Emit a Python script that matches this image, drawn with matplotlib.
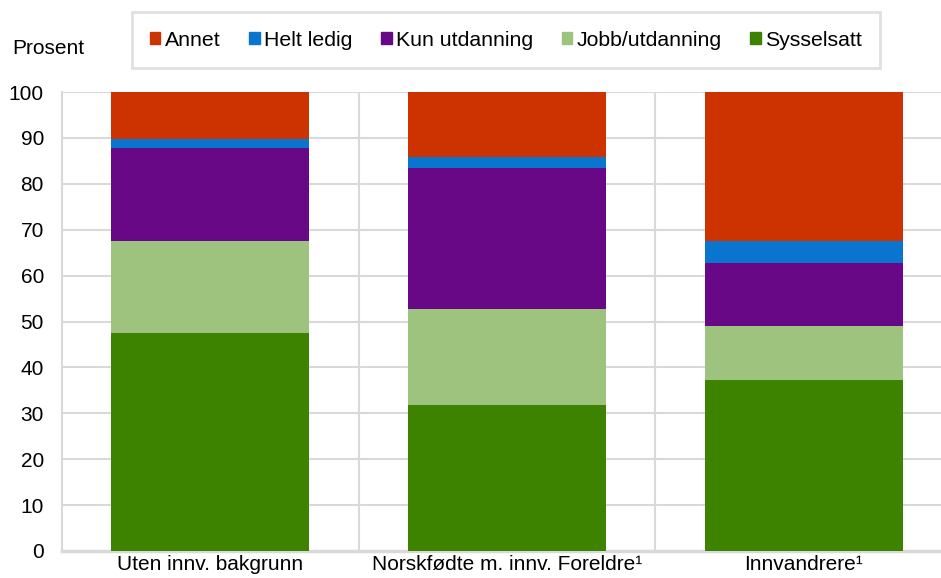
import matplotlib.pyplot as plt
import numpy as np
from matplotlib.patches import Patch

plt.rcParams['font.family'] = ['Liberation Sans', 'DejaVu Sans']

# data (percent)
categories = ["Uten innv. bakgrunn", "Norskfødte m. innv. Foreldre¹", "Innvandrere¹"]
sysselsatt = [47.5, 31.8, 37.3]
jobb_utd = [20.0, 20.9, 11.7]
kun_utd = [20.3, 30.8, 13.8]
helt_ledig = [1.9, 2.4, 4.7]
annet = [10.3, 14.1, 32.5]

series = [
    ("Sysselsatt", sysselsatt, "#3d8300"),
    ("Jobb/utdanning", jobb_utd, "#9dc37f"),
    ("Kun utdanning", kun_utd, "#690887"),
    ("Helt ledig", helt_ledig, "#0a75cf"),
    ("Annet", annet, "#cc3300"),
]

fig = plt.figure(figsize=(9.41, 5.78), dpi=100)
ax = fig.add_axes([62 / 941, 27 / 578, 890 / 941, 459 / 578])

x = np.arange(len(categories))
bottom = np.zeros(len(categories))
for name, vals, col in series:
    ax.bar(x, vals, 0.667, bottom=bottom, color=col, zorder=3)
    bottom += np.array(vals)

ax.set_xlim(-0.5, 2.5)
ax.set_ylim(0, 100)
ax.set_yticks(range(0, 101, 10))
ax.set_xticks(x)
ax.set_xticklabels(categories)
ax.set_xticks([0.5, 1.5], minor=True)
ax.tick_params(axis='both', which='both', length=0, labelsize=15)
ax.tick_params(axis='y', pad=13)
ax.tick_params(axis='x', pad=3)
ax.grid(axis='y', color='#d9d9d9', linewidth=1.5, zorder=0)
ax.grid(axis='x', which='minor', color='#d9d9d9', linewidth=1.5, zorder=0)
for s in ['top', 'right']:
    ax.spines[s].set_visible(False)
ax.spines['left'].set_color('#d9d9d9')
ax.spines['left'].set_linewidth(1.5)
ax.spines['bottom'].set_color('#d9d9d9')
ax.spines['bottom'].set_linewidth(2.5)

fig.text(12 / 941, 1 - 48 / 578, "Prosent", fontsize=15, va='center', ha='left')

handles = [Patch(color=col, label=name) for name, vals, col in reversed(series)]
leg = fig.legend(handles=handles, loc='center', bbox_to_anchor=(506 / 941, 1 - 40 / 578),
                 ncol=5, fontsize=15.3, frameon=True, fancybox=False,
                 handlelength=0.5, handleheight=0.5, handletextpad=0.2,
                 columnspacing=1.35, borderpad=0.85, borderaxespad=0)
leg.get_frame().set_edgecolor('#d9d9d9')
leg.get_frame().set_linewidth(2)

fig.savefig("out.png", dpi=100)
